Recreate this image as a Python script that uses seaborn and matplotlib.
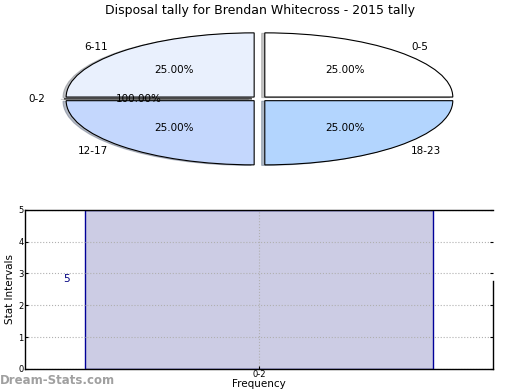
import seaborn as sns
import matplotlib.pyplot as plt
import pandas as pd

title = "Disposal tally for Brendan Whitecross - 2015 tally"

# pie data
slice_labels = ["0-5", "6-11", "0-2", "12-17", "18-23"]
slice_values = [1, 1, 0, 1, 1]
slice_pct = ["25.00%", "25.00%", "100.00%", "25.00%", "25.00%"]
slice_colors = ["#ffffff", "#e9f0fd", "#ffffff", "#c4d7fd", "#b3d5fe"]

# bar data
intervals = ["0-2"]
frequency = [5]

sns.set_style("white")
plt.rcParams["font.family"] = ["DejaVu Sans"]
plt.rcParams["text.color"] = "black"
plt.rcParams["axes.labelcolor"] = "black"
plt.rcParams["xtick.color"] = "black"
plt.rcParams["ytick.color"] = "black"

fig = plt.figure(figsize=(5.2, 3.9), dpi=100)

# ---- pie ----
ax1 = fig.add_axes([0.029, 0.549, 0.940, 0.395])
pct_iter = iter(slice_pct)
ax1.pie(slice_values, labels=slice_labels, colors=slice_colors,
        explode=[0.04] * len(slice_values),
        shadow=dict(ox=-0.012, oy=-0.006, shade=0.45),
        autopct=lambda p: next(pct_iter), pctdistance=0.6, labeldistance=1.1,
        wedgeprops=dict(edgecolor="black", linewidth=0.8),
        textprops=dict(fontsize=7.5, color="black"))
ax1.set_aspect("auto")
ax1.set_xlim(-1.3, 1.3)
ax1.set_ylim(-1.2, 1.2)
fig.text(0.5, 0.973, title, ha="center", va="center", fontsize=9, color="black")

# ---- bars ----
ax2 = fig.add_axes([0.048, 0.054, 0.9, 0.408])
df = pd.DataFrame({"interval": intervals, "freq": frequency})
sns.barplot(data=df, x="interval", y="freq", ax=ax2, width=0.745,
            color="#cccce4", saturation=1,
            edgecolor="#000099", linewidth=1)
ax2.set_xlim(-0.5, 0.5)
ax2.set_ylim(0, 5)
ax2.set_yticks(range(0, 6))
ax2.tick_params(axis="both", labelsize=6, length=2, direction="in", pad=1,
                right=True, left=True, bottom=True)
ax2.grid(True, color="#b0b0b0", linestyle=":", linewidth=0.8)
ax2.set_axisbelow(False)
ax2.set_ylabel("Stat Intervals", fontsize=7.5, labelpad=2)
ax2.set_xlabel("Frequency", fontsize=7.5, labelpad=0)
for sp in ax2.spines.values():
    sp.set_color("black")
    sp.set_linewidth(1)
    sp.set_zorder(5)
ax2.spines["right"].set_bounds(0, 2.77)

for i, v in enumerate(frequency):
    ax2.text(i - 0.375 - 0.03, v * 0.565, str(v), ha="right", va="center",
             color="#000080", fontsize=7.5)

fig.text(0.0, 0.025, "Dream-Stats.com", ha="left", va="center",
         color="#a0a0a0", fontsize=8.5, fontweight="bold")

fig.savefig("out.png", dpi=100)
